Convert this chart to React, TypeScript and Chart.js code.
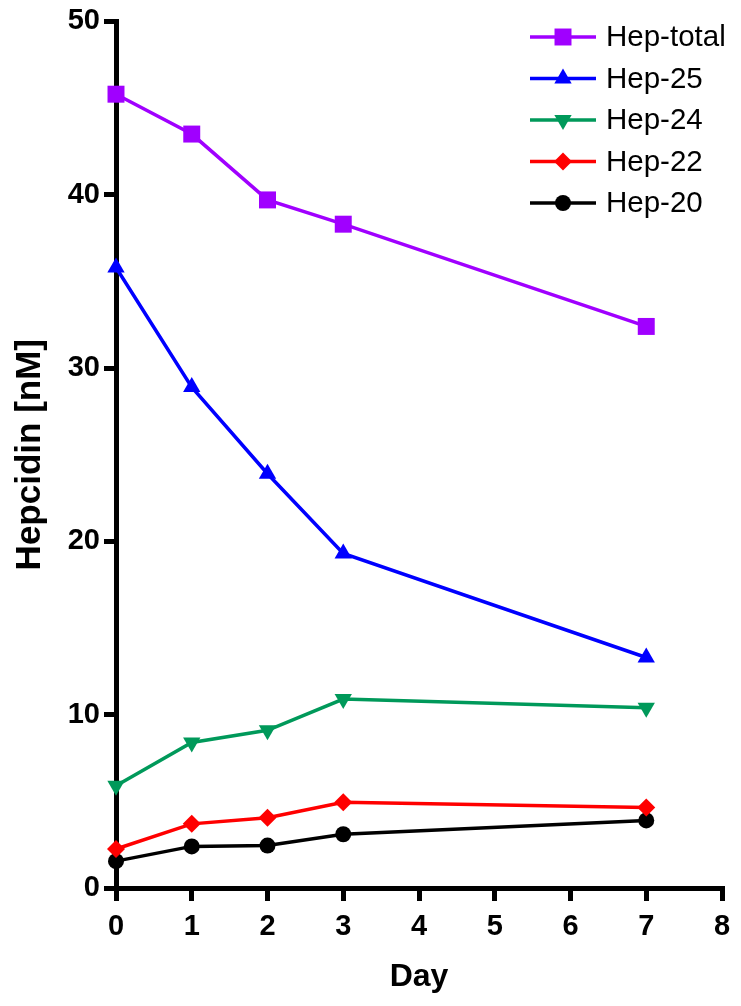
import React, { useEffect, useRef } from "react";
import { Chart, registerables } from "chart.js";

Chart.register(...registerables);

const days = [0, 1, 2, 3, 7];
const seriesNames = ["Hep-total", "Hep-25", "Hep-24", "Hep-22", "Hep-20"];
const hepTotal = [45.8, 43.5, 39.7, 38.3, 32.4];
const hep25 = [35.8, 28.9, 23.9, 19.3, 13.3];
const hep24 = [5.9, 8.4, 9.1, 10.9, 10.4];
const hep22 = [2.25, 3.7, 4.05, 4.95, 4.65];
const hep20 = [1.55, 2.4, 2.45, 3.1, 3.9];
const seriesColors = ["#A000FF", "#0000FF", "#00995A", "#FF0000", "#000000"];
const seriesShapes = ["rect", "triangle", "triangle", "rectRot", "circle"];
const seriesRotation = [0, 0, 180, 0, 0];
const seriesRadius = [12, 10, 10, 9, 8];
const yTicks = [0, 10, 20, 30, 40, 50];
const xTicks = [0, 1, 2, 3, 4, 5, 6, 7, 8];

const FONT = "'Liberation Sans', Arial, Helvetica, sans-serif";

function drawMarker(ctx: CanvasRenderingContext2D, shape: string, x: number, y: number, r: number, rot: number, color: string) {
  ctx.save();
  ctx.fillStyle = color;
  ctx.beginPath();
  if (shape === "rect") {
    const s = Math.SQRT1_2 * r;
    ctx.rect(x - s, y - s, 2 * s, 2 * s);
  } else if (shape === "triangle") {
    const base = (rot * Math.PI) / 180;
    for (let i = 0; i < 3; i++) {
      const a = base - Math.PI / 2 + (i * 2 * Math.PI) / 3;
      const px = x + Math.cos(a) * r;
      const py = y + Math.sin(a) * r;
      if (i === 0) ctx.moveTo(px, py);
      else ctx.lineTo(px, py);
    }
    ctx.closePath();
  } else if (shape === "rectRot") {
    ctx.moveTo(x - r, y);
    ctx.lineTo(x, y - r);
    ctx.lineTo(x + r, y);
    ctx.lineTo(x, y + r);
    ctx.closePath();
  } else {
    ctx.arc(x, y, r, 0, Math.PI * 2);
  }
  ctx.fill();
  ctx.restore();
}

const legendPlugin = {
  id: "lineLegend",
  afterDraw(chart: any) {
    const ctx = chart.ctx as CanvasRenderingContext2D;
    const x0 = 530;
    const x1 = 596;
    const textX = 606;
    const startY = 37;
    const step = 41.5;
    chart.data.datasets.forEach((ds: any, i: number) => {
      const y = startY + i * step;
      ctx.save();
      ctx.strokeStyle = ds.borderColor;
      ctx.lineWidth = 3.5;
      ctx.beginPath();
      ctx.moveTo(x0, y);
      ctx.lineTo(x1, y);
      ctx.stroke();
      drawMarker(ctx, seriesShapes[i], (x0 + x1) / 2, y, seriesRadius[i], seriesRotation[i], seriesColors[i]);
      ctx.fillStyle = "#000";
      ctx.font = `29.5px ${FONT}`;
      ctx.textBaseline = "middle";
      ctx.textAlign = "left";
      ctx.fillText(ds.label, textX, y + 1);
      ctx.restore();
    });
  },
};

export default function App() {
  const ref = useRef<HTMLCanvasElement | null>(null);

  useEffect(() => {
    if (!ref.current) return;
    const allValues = [hepTotal, hep25, hep24, hep22, hep20];
    const datasets = allValues.map((vals, i) => ({
      label: seriesNames[i],
      data: days.map((d, j) => ({ x: d, y: vals[j] })),
      borderColor: seriesColors[i],
      backgroundColor: seriesColors[i],
      borderWidth: 3.5,
      pointStyle: seriesShapes[i] as any,
      pointRotation: seriesRotation[i],
      pointRadius: seriesRadius[i],
      pointHoverRadius: seriesRadius[i],
      pointBorderWidth: 0,
      tension: 0,
      clip: false as any,
    }));

    const chart = new Chart(ref.current, {
      type: "line",
      data: { datasets },
      plugins: [legendPlugin],
      options: {
        responsive: false,
        animation: false,
        layout: { padding: { left: 0, right: 19, top: 21, bottom: 0 } },
        plugins: {
          legend: { display: false },
          tooltip: { enabled: false },
        },
        scales: {
          x: {
            type: "linear",
            min: 0,
            max: 8,
            z: 1,
            afterFit: (scale: any) => {
              scale.height = 118;
            },
            afterBuildTicks: (scale: any) => {
              scale.ticks = xTicks.map((v) => ({ value: v }));
            },
            ticks: {
              stepSize: 1,
              color: "#000",
              padding: 9,
              maxRotation: 0,
              font: { family: FONT, size: 29, weight: "bold" },
            },
            grid: {
              display: true,
              drawOnChartArea: false,
              drawTicks: true,
              tickLength: 13,
              lineWidth: 5,
              tickWidth: 5,
              tickColor: "#000",
              color: "#000",
            },
            border: { display: true, width: 5, color: "#000" },
            title: {
              display: true,
              text: "Day",
              color: "#000",
              font: { family: FONT, size: 32, weight: "bold" },
              padding: { top: 0, bottom: 10 },
            },
          },
          y: {
            type: "linear",
            min: 0,
            max: 50,
            z: 1,
            afterFit: (scale: any) => {
              scale.width = 116;
            },
            afterBuildTicks: (scale: any) => {
              scale.ticks = yTicks.map((v) => ({ value: v }));
            },
            ticks: {
              stepSize: 10,
              color: "#000",
              padding: 4,
              font: { family: FONT, size: 29, weight: "bold" },
            },
            grid: {
              display: true,
              drawOnChartArea: false,
              drawTicks: true,
              tickLength: 12,
              lineWidth: 5,
              tickWidth: 5,
              tickColor: "#000",
              color: "#000",
            },
            border: { display: true, width: 5, color: "#000" },
            title: {
              display: true,
              text: "Hepcidin [nM]",
              color: "#000",
              font: { family: FONT, size: 35, weight: "bold" },
              padding: { top: 9, bottom: 0 },
            },
          },
        },
      } as any,
    });
    return () => chart.destroy();
  }, []);

  return (
    <div style={{ position: "absolute", left: 0, top: 0, width: 741, height: 1006, background: "#fff" }}>
      <canvas ref={ref} width={741} height={1006} style={{ width: 741, height: 1006, display: "block" }} />
    </div>
  );
}
